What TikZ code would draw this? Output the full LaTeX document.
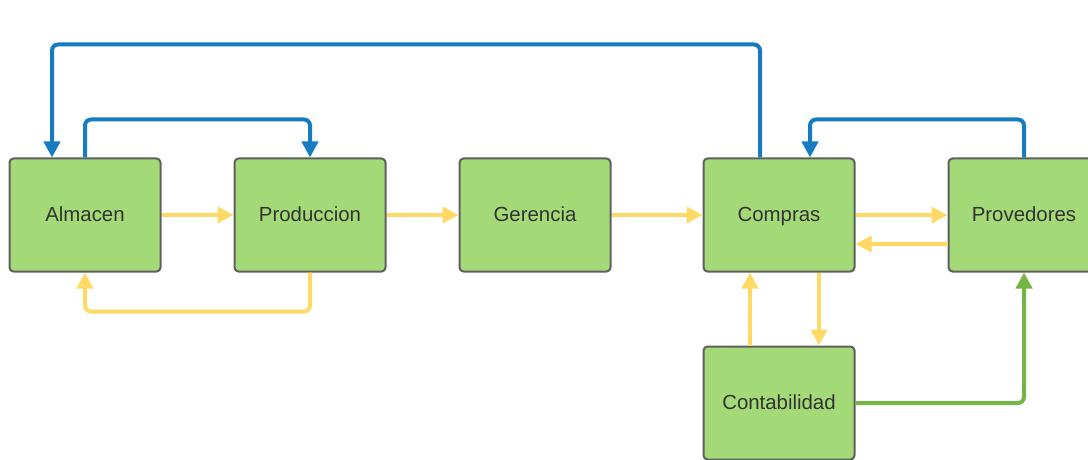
\documentclass[tikz,border=0pt]{standalone}
\usepackage{fontspec}
\setmainfont{Liberation Sans}
\usetikzlibrary{positioning,arrows.meta,calc}

\definecolor{boxgreen}{HTML}{A3D977}
\definecolor{boxline}{HTML}{5F5F5F}
\definecolor{flowyellow}{HTML}{FFD966}
\definecolor{flowblue}{HTML}{167BC0}
\definecolor{flowgreen}{HTML}{74B546}
\definecolor{txt}{HTML}{333333}

\tikzset{
  area/.style={draw=boxline,line width=1pt,fill=boxgreen,rounded corners=2pt,
    minimum width=75.5pt,minimum height=56.5pt,inner sep=0pt,
    text height=1.5ex,text depth=.25ex,
    text=txt,font=\fontsize{10.2}{12}\selectfont},
  flow/.style={line width=2pt,rounded corners=3pt,
    -{Triangle[length=8pt,width=8pt]}},
  yflow/.style={flow,draw=flowyellow},
  bflow/.style={flow,draw=flowblue},
  gflow/.style={flow,draw=flowgreen}
}

\begin{document}
\begin{tikzpicture}[x=0.5pt,y=-0.5pt]

\useasboundingbox (0,0) rectangle (1088,460);

\node[area] (alm) at (85,215) {Almacen};
\node[area] (prod) at (310,215) {Produccion};
\node[area] (ger) at (535,215) {Gerencia};
\node[area] (com) at (779,215) {Compras};
\node[area] (pro) at (1024,215) {Provedores};
\node[area] (cont) at (779,403) {Contabilidad};

% flujos amarillos
\draw[yflow] (alm) -- (prod);
\draw[yflow] (prod) -- (ger);
\draw[yflow] (ger) -- (com);
\draw[yflow] (com) -- (pro);
\draw[yflow] ($(pro.west)+(0,29)$) -- ($(com.east)+(0,29)$);
\draw[yflow] (prod.south) -- ++(0,39) -| (alm.south);
\draw[yflow] ($(cont.north)+(-29,0)$) -- ($(com.south)+(-29,0)$);
\draw[yflow] ($(com.south)+(40,0)$) -- ($(cont.north)+(40,0)$);

% flujos azules
\draw[bflow] (alm.north) -- ++(0,-38) -| (prod.north);
\draw[bflow] ($(com.north)+(-19,0)$) -- ++(0,-113) -| ($(alm.north)+(-33,0)$);
\draw[bflow] (pro.north) -- ++(0,-38) -| ($(com.north)+(31,0)$);

% flujo verde
\draw[gflow] (cont.east) -| (pro.south);

\end{tikzpicture}
\end{document}
